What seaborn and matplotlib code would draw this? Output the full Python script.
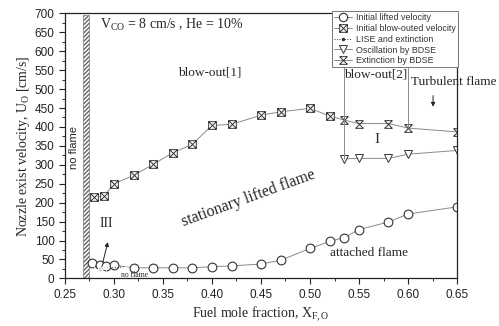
import numpy as np
import matplotlib
matplotlib.use('Agg')
import matplotlib.pyplot as plt
from matplotlib.path import Path
from matplotlib.lines import Line2D
from matplotlib.ticker import MultipleLocator
import seaborn as sns

# data
lifted_x = [0.278, 0.286, 0.292, 0.30, 0.32, 0.34, 0.36, 0.38, 0.40, 0.42,
            0.45, 0.47, 0.50, 0.52, 0.535, 0.55, 0.58, 0.60, 0.65]
lifted_y = [42, 35, 34, 35, 28, 28, 28, 28, 31, 33,
            38, 48, 79, 98, 108, 129, 149, 170, 189]

blowout_x = [0.28, 0.29, 0.30, 0.32, 0.34, 0.36, 0.38, 0.40, 0.42,
             0.45, 0.47, 0.50, 0.52]
blowout_y = [215, 218, 250, 272, 301, 332, 354, 404, 407,
             431, 440, 449, 429]

lise_x = [0.280, 0.284, 0.288, 0.292, 0.311]
lise_y = [25, 25, 26, 27, 30]

osc_x = [0.535, 0.55, 0.58, 0.60, 0.65]
osc_y = [316, 317, 317, 328, 338]

ext_x = [0.535, 0.55, 0.58, 0.60, 0.65]
ext_y = [418, 409, 409, 397, 387]

labels = ['Initial lifted velocity', 'Initial blow-outed velocity',
          'LISE and extinction', 'Oscillation by BDSE', 'Extinction by BDSE']

noflame_band = [0.268, 0.275]
boundary_x = [0.535, 0.60]
boundary_top = 568

# custom markers
M, L, C = Path.MOVETO, Path.LINETO, Path.CLOSEPOLY
crossed_sq = Path([(-1, -1), (1, -1), (1, 1), (-1, 1), (-1, -1),
                   (-1, -1), (1, 1), (-1, 1), (1, -1)],
                  [M, L, L, L, C, M, L, M, L])
hourglass = Path([(-1, 1), (1, 1), (-1, -1), (1, -1),
                  (-1, 1), (1, -1), (1, 1), (-1, -1)],
                 [M, L, M, L, M, L, M, L])

sns.set_style('ticks')
plt.rcParams['font.family'] = ['Liberation Sans', 'DejaVu Sans']
plt.rcParams['mathtext.fontset'] = 'custom'
plt.rcParams['mathtext.rm'] = 'Liberation Serif'
plt.rcParams['mathtext.it'] = 'Liberation Serif:italic'

line_c = '#8a8a8a'
mark_c = '#333333'
serif = 'Liberation Serif'

fig = plt.figure(figsize=(4.99, 3.26), dpi=100)
ax = fig.add_axes([0.130, 0.146, 0.786, 0.813])

# no flame band
ax.axvspan(noflame_band[0], noflame_band[1], ymin=0, ymax=0.993, fill=False,
           hatch='////////', edgecolor='#666666', lw=0.4)

sns.lineplot(x=lifted_x, y=lifted_y, ax=ax, sort=False, color=line_c, lw=0.7,
             marker='o', markersize=6.3, markerfacecolor='white',
             markeredgecolor=mark_c, markeredgewidth=0.8)

# blow-out line continues into the BDSE extinction points
sns.lineplot(x=blowout_x + ext_x, y=blowout_y + ext_y, ax=ax, sort=False,
             color=line_c, lw=0.7)
sns.lineplot(x=blowout_x, y=blowout_y, ax=ax, sort=False, lw=0,
             marker=crossed_sq, markersize=5.5, markerfacecolor='white',
             markeredgecolor=mark_c, markeredgewidth=0.7)
sns.lineplot(x=ext_x, y=ext_y, ax=ax, sort=False, lw=0,
             marker=hourglass, markersize=5.5, markerfacecolor='none',
             markeredgecolor=mark_c, markeredgewidth=0.7)

sns.lineplot(x=lise_x, y=lise_y, ax=ax, sort=False, color=mark_c, lw=0.7,
             linestyle=':', marker='+', markersize=4, markeredgewidth=0.6)

sns.lineplot(x=osc_x, y=osc_y, ax=ax, sort=False, color=line_c, lw=0.7,
             marker='v', markersize=5.5, markerfacecolor='white',
             markeredgecolor=mark_c, markeredgewidth=0.7)

# region boundaries
ax.vlines(boundary_x, [osc_y[0], ext_y[3]], boundary_top, color=line_c, lw=0.7)

ax.set_xlim(0.25, 0.65)
ax.set_ylim(0, 700)
ax.xaxis.set_major_locator(MultipleLocator(0.05))
ax.xaxis.set_minor_locator(MultipleLocator(0.025))
ax.yaxis.set_major_locator(MultipleLocator(50))
ax.yaxis.set_minor_locator(MultipleLocator(25))
ax.xaxis.set_major_formatter(plt.FormatStrFormatter('%.2f'))
ax.tick_params(which='major', length=4, width=0.8, labelsize=8.5, colors='#222222')
ax.tick_params(which='minor', length=2.5, width=0.7)
for s in ax.spines.values():
    s.set_linewidth(0.9)
    s.set_color('#222222')

ax.set_xlabel(r'Fuel mole fraction, X$_{\rm F,O}$', fontfamily=serif,
              fontsize=10, labelpad=3)
ax.set_ylabel(r'Nozzle exist velocity, U$_{\rm O}$ [cm/s]', fontfamily=serif,
              fontsize=10, labelpad=2)

# annotations
ax.text(0.2855, 670, r'V$_{\rm CO}$ = 8 cm/s , He = 10%', fontfamily=serif,
        fontsize=10, va='center', ha='left')
ax.text(0.259, 347, 'no flame', rotation=90, fontsize=8, ha='center', va='center')
ax.text(0.398, 544, 'blow-out[1]', fontfamily=serif, fontsize=9.5,
        ha='center', va='center')
ax.text(0.567, 539, 'blow-out[2]', fontfamily=serif, fontsize=9.5,
        ha='center', va='center')
ax.text(0.6464, 519, 'Turbulent flame', fontfamily=serif, fontsize=9.5,
        ha='center', va='center', clip_on=False)
ax.annotate('', xy=(0.6255, 446), xytext=(0.6255, 490),
            arrowprops=dict(arrowstyle='-|>', color='#222222', lw=0.7,
                            mutation_scale=6))
ax.text(0.568, 367, 'I', fontfamily=serif, fontsize=11, ha='center', va='center')
ax.text(0.437, 212, 'stationary lifted flame', fontfamily=serif, fontsize=11.5,
        rotation=20, ha='center', va='center')
ax.text(0.560, 66, 'attached flame', fontfamily=serif, fontsize=9.5,
        ha='center', va='center')
ax.text(0.2925, 145, 'III', fontfamily=serif, fontsize=10, ha='center', va='center')
ax.annotate('', xy=(0.2945, 103), xytext=(0.288, 35),
            arrowprops=dict(arrowstyle='-|>', color='#222222', lw=0.7,
                            mutation_scale=6))
ax.text(0.321, 9, 'no flame', fontfamily=serif, fontsize=5.5,
        ha='center', va='center')

# legend
handles = [
    Line2D([], [], color=line_c, lw=0.7, marker='o', markersize=6,
           markerfacecolor='white', markeredgecolor=mark_c, markeredgewidth=0.8),
    Line2D([], [], color=line_c, lw=0.7, marker=crossed_sq, markersize=5.5,
           markerfacecolor='white', markeredgecolor=mark_c, markeredgewidth=0.7),
    Line2D([], [], color=mark_c, lw=0.7, linestyle=':', marker='.',
           markersize=3),
    Line2D([], [], color=line_c, lw=0.7, marker='v', markersize=5.5,
           markerfacecolor='white', markeredgecolor=mark_c, markeredgewidth=0.7),
    Line2D([], [], color=line_c, lw=0.7, marker=hourglass, markersize=5.5,
           markerfacecolor='none', markeredgecolor=mark_c, markeredgewidth=0.7),
]
leg = fig.legend(handles, labels, loc='upper right',
                 bbox_to_anchor=(0.917, 0.965), fontsize=6.4, frameon=True,
                 fancybox=False, framealpha=1, edgecolor='#777777',
                 handlelength=2.1, handletextpad=0.4, borderpad=0.2,
                 labelspacing=0.2, borderaxespad=0)
leg.get_frame().set_linewidth(0.7)
for t in leg.get_texts():
    t.set_color('#333333')

fig.savefig('out.png', dpi=100)
